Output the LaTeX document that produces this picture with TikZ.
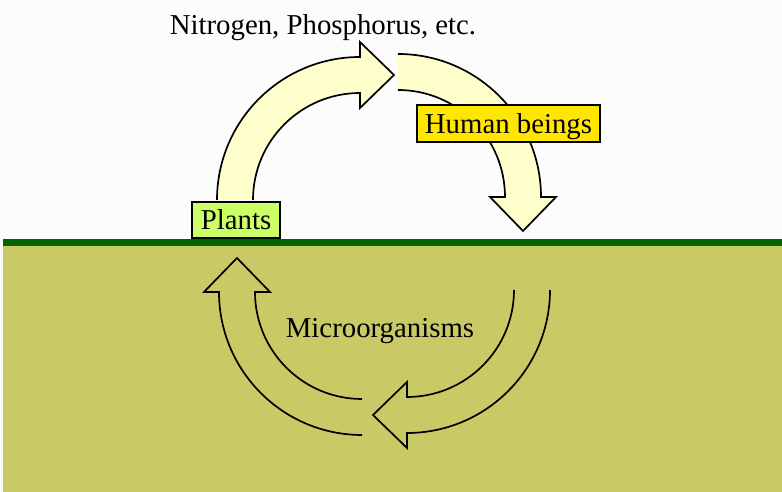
\documentclass[tikz,border=0pt]{standalone}
\usepackage{fontspec}
\setmainfont{Liberation Serif}
\usetikzlibrary{positioning,calc}
\definecolor{sky}{RGB}{252,252,252}
\definecolor{soil}{RGB}{201,201,102}
\definecolor{grass}{RGB}{0,102,0}
\definecolor{cream}{RGB}{255,255,204}
\definecolor{leaf}{RGB}{204,255,102}
\definecolor{gold}{RGB}{255,230,0}
\tikzset{pics/cyclearrow/.style={
  code={
    \filldraw[draw=black, fill=#1, line width=1.7pt, line join=miter]
      (-\rout,0) arc[start angle=180, end angle=90, radius=\rout]
      -- (0,{\rout+\e}) -- (\tip,{(\rin+\rout)/2}) -- (0,{\rin-\e})
      -- (0,\rin) arc[start angle=90, end angle=180, radius=\rin];
  }
},
  label box/.style={draw=black, line width=1.2pt, inner sep=0pt, text depth=0pt}
}

\begin{document}
\begin{tikzpicture}[x=1pt, y=1pt, font=\fontsize{28.8}{32}\selectfont]
    \pgfmathsetmacro{\rin}{107}	%inner radius
    \pgfmathsetmacro{\rout}{143}	%outer radius
    \pgfmathsetmacro{\e}{15}	%head overhang
    \pgfmathsetmacro{\tip}{34}	%head length

    \useasboundingbox (0,0) rectangle (782,492);
    \fill[sky] (0,0) rectangle (782,492);
    \fill[soil] (3,0) rectangle (782,246);
    \fill[grass] (3,246) rectangle (782,253);

    % above ground
    \pic at (360,292) {cyclearrow=cream};
    \pic[rotate=-90] at (398,295) {cyclearrow=cream};
    % below ground
    \pic[rotate=-180] at (407,202) {cyclearrow=soil};
    \pic[rotate=90] at (362,200) {cyclearrow=soil};

    \node[label box, fill=gold, minimum width=183pt, minimum height=37pt] (human) at (508.5,368.5) {Human beings};
    \node[label box, fill=leaf, minimum width=88pt, minimum height=36pt] (plants) at (236,272) {Plants};
    \node[anchor=base] (nutrients) at (323,457) {Nitrogen, Phosphorus, etc.};
    \node[anchor=base] (microbes) at (380,154) {Microorganisms};
\end{tikzpicture}
\end{document}
